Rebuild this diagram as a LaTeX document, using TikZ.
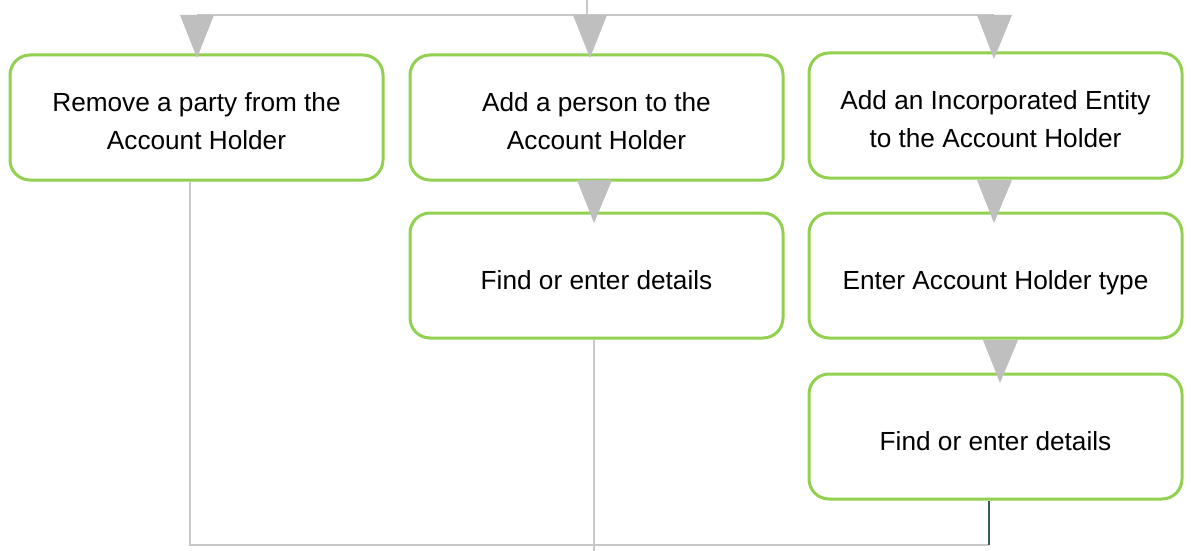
\documentclass[tikz,border=0pt]{standalone}
\usepackage{fontspec}
\setmainfont{Liberation Sans}
\usepackage{tikz}
\usetikzlibrary{calc}
\definecolor{boxgreen}{HTML}{92D050}
\definecolor{tri}{HTML}{BFBFBF}
\definecolor{linkgrey}{HTML}{C8C8C8}
\definecolor{darklink}{HTML}{2F5F62}

\begin{document}
\begin{tikzpicture}[x=1pt,y=-1pt]
        \tikzset{stage/.style = {draw=boxgreen, line width=3pt, rounded corners=20pt, fill=white,
                 minimum width=373pt, minimum height=125pt, align=center, text height=27pt, text depth=0pt,
                 font=\fontsize{26.2}{37.5}\selectfont}}
        \tikzset{twoline/.style = {text height=63.5pt}}
        \tikzset{link/.style = {draw=linkgrey, line width=1.5pt}}
        \tikzset{arrowtri/.style = {fill=tri}}

        \useasboundingbox (0,0) rectangle (1191,551);

        \coordinate (top) at (587,0);
        \coordinate (split) at (587,15);
        \coordinate (splitl) at (197,15);
        \coordinate (splitr) at (994,15);
        \coordinate (join) at (989,545);
        \coordinate (out) at (594,551);

        % lines behind the boxes
        \draw[link] (top) -- (split);
        \draw[link] (splitl) -- (splitr);

        \node[stage, twoline] (remove) at (196.5,117.5) {Remove a party from the\\Account Holder};
        \node[stage, twoline] (addperson) at (596.5,117.5) {Add a person to the\\Account Holder};
        \node[stage, twoline] (addentity) at (995.5,115.5) {Add an Incorporated Entity\\to the Account Holder};
        \node[stage] (findperson) at (596.5,275.5) {Find or enter details};
        \node[stage] (holdertype) at (995.5,275.5) {Enter Account Holder type};
        \node[stage] (findentity) at (995.5,436.5) {Find or enter details};

        \draw[link] ([xshift=-6.5pt]remove.south) |- (join);
        \draw[link] ([xshift=-2.5pt]findperson.south) -- (out);
        \draw[draw=darklink, line width=1.5pt] ([xshift=-6.5pt]findentity.south) -- (join);

        % arrow heads
        \fill[arrowtri] (180,15) -- (214,15) -- (197,58) -- cycle;
        \fill[arrowtri] (573,15) -- (607,15) -- (590,58) -- cycle;
        \fill[arrowtri] (977,15) -- (1012,15) -- (994,59) -- cycle;
        \fill[arrowtri] (577,180) -- (612,180) -- (594,223) -- cycle;
        \fill[arrowtri] (977,180) -- (1012,180) -- (994,223) -- cycle;
        \fill[arrowtri] (983,340) -- (1018,340) -- (1000,383) -- cycle;
    \end{tikzpicture}
\end{document}
